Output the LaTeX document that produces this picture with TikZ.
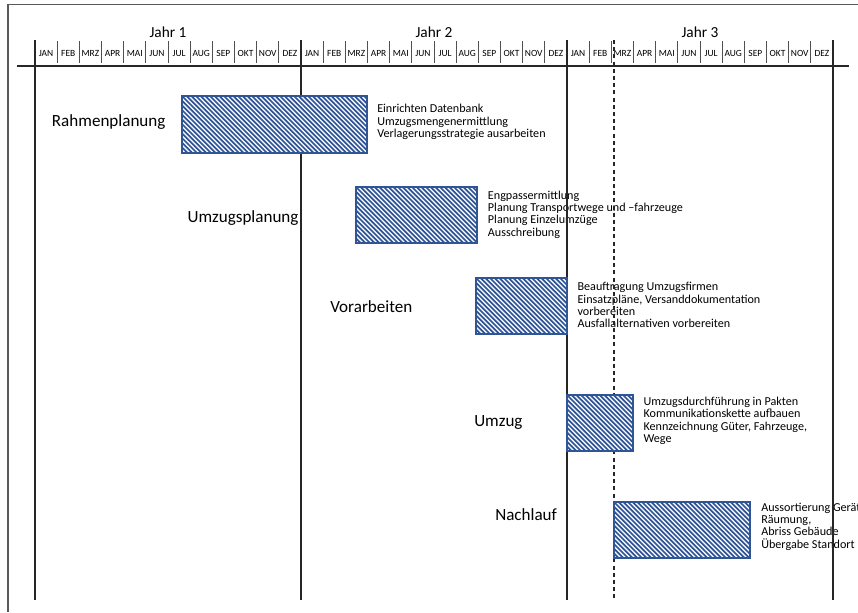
\documentclass[tikz,border=0pt]{standalone}
\usepackage{fontspec}
\setmainfont{Carlito}
\usetikzlibrary{fit}
\definecolor{barblue}{HTML}{2F5597}
\definecolor{framegray}{HTML}{5A5A5A}
\definecolor{inkline}{HTML}{262626}

\begin{document}
\begin{tikzpicture}[x=0.75pt,y=-0.75pt,
  frameline/.style={draw=framegray, line width=1.1pt},
  yearline/.style={draw=inkline, line width=1.2pt},
  tickline/.style={draw=inkline!80, line width=0.7pt},
  cutline/.style={draw=inkline, line width=1.2pt, dash pattern=on 3pt off 2.4pt},
  monthlabel/.style={font=\fontsize{7.1}{8}\selectfont, inner sep=0},
  yearlabel/.style={font=\fontsize{11.5}{13}\selectfont, anchor=base, inner sep=0},
  phase/.style={font=\fontsize{12.8}{15}\selectfont, anchor=base west, inner sep=0},
  note/.style={font=\fontsize{9.1}{9.3}\selectfont, anchor=north west, align=left, inner sep=0},
  hatchbar/.style={draw=barblue, line width=1.1pt, fill=white, inner sep=0,
    path picture={
      \foreach \i in {-14,...,44}
        \draw[barblue, line width=1.3pt]
          ([xshift=\i*3.5pt]path picture bounding box.north west) -- ++(50pt,-50pt);
    }},
]
\useasboundingbox (0,0) rectangle (858,612);
\clip (0,0) rectangle (858,612);
\fill[white] (0,0) rectangle (858,612);

% outer frame
\draw[frameline] (8,612) -- (8,4.5) -- (858,4.5);

% year headings
\node[yearlabel] (y1) at (168,37.5) {Jahr 1};
\node[yearlabel] (y2) at (434,37.5) {Jahr 2};
\node[yearlabel] (y3) at (700,37.5) {Jahr 3};

% month headings
\foreach \yr in {0,1,2}{
  \foreach \m [count=\k from 0] in {JAN,FEB,MRZ,APR,MAI,JUN,JUL,AUG,SEP,OKT,NOV,DEZ}{
    \node[monthlabel] (m\yr-\k) at ({35+(12*\yr+\k+0.5)*22.1667},53) {\m};
  }
}
\foreach \k in {1,...,35}
  \draw[tickline] ({35+\k*22.1667},41) -- ({35+\k*22.1667},63);
\draw[yearline] (17,65.7) -- (848.7,65.7);

% phase names
\node[phase] (p1) at (51.7,126) {Rahmenplanung};
\node[phase] (p2) at (187.3,222.7) {Umzugsplanung};
\node[phase] (p3) at (330,312.7) {Vorarbeiten};
\node[phase] (p4) at (474,426.7) {Umzug};
\node[phase] (p5) at (495,520.7) {Nachlauf};

% task descriptions
\node[note] (t1) at (377,104) {Einrichten Datenbank\\Umzugsmengenermittlung\\Verlagerungsstrategie ausarbeiten};
\node[note] (t2) at (487.7,190.5) {Engpassermittlung\\Planung Transportwege und –fahrzeuge\\Planung Einzelumzüge\\Ausschreibung};
\node[note] (t3) at (577.3,282) {Beauftragung Umzugsfirmen\\Einsatzpläne, Versanddokumentation\\vorbereiten\\Ausfallalternativen vorbereiten};
\node[note] (t4) at (643.3,396.5) {Umzugsdurchführung in Pakten\\Kommunikationskette aufbauen\\Kennzeichnung Güter, Fahrzeuge,\\Wege};
\node[note] (t5) at (761,502.5) {Aussortierung Geräte\\Räumung,\\Abriss Gebäude\\Übergabe Standort};

% year boundaries and the cut-over date
\foreach \xx in {35,301,567,833}
  \draw[yearline] (\xx,40) -- (\xx,600);
\draw[cutline] (613.7,40) -- (613.7,600);

% phase bars
\node[hatchbar, fit={(182,96) (367,153)}] (b1) {};
\node[hatchbar, fit={(356,187) (477,243)}] (b2) {};
\node[hatchbar, fit={(476,278) (567,334)}] (b3) {};
\node[hatchbar, fit={(567,395) (633,451)}] (b4) {};
\node[hatchbar, fit={(614,502) (750,558)}] (b5) {};
\end{tikzpicture}
\end{document}
